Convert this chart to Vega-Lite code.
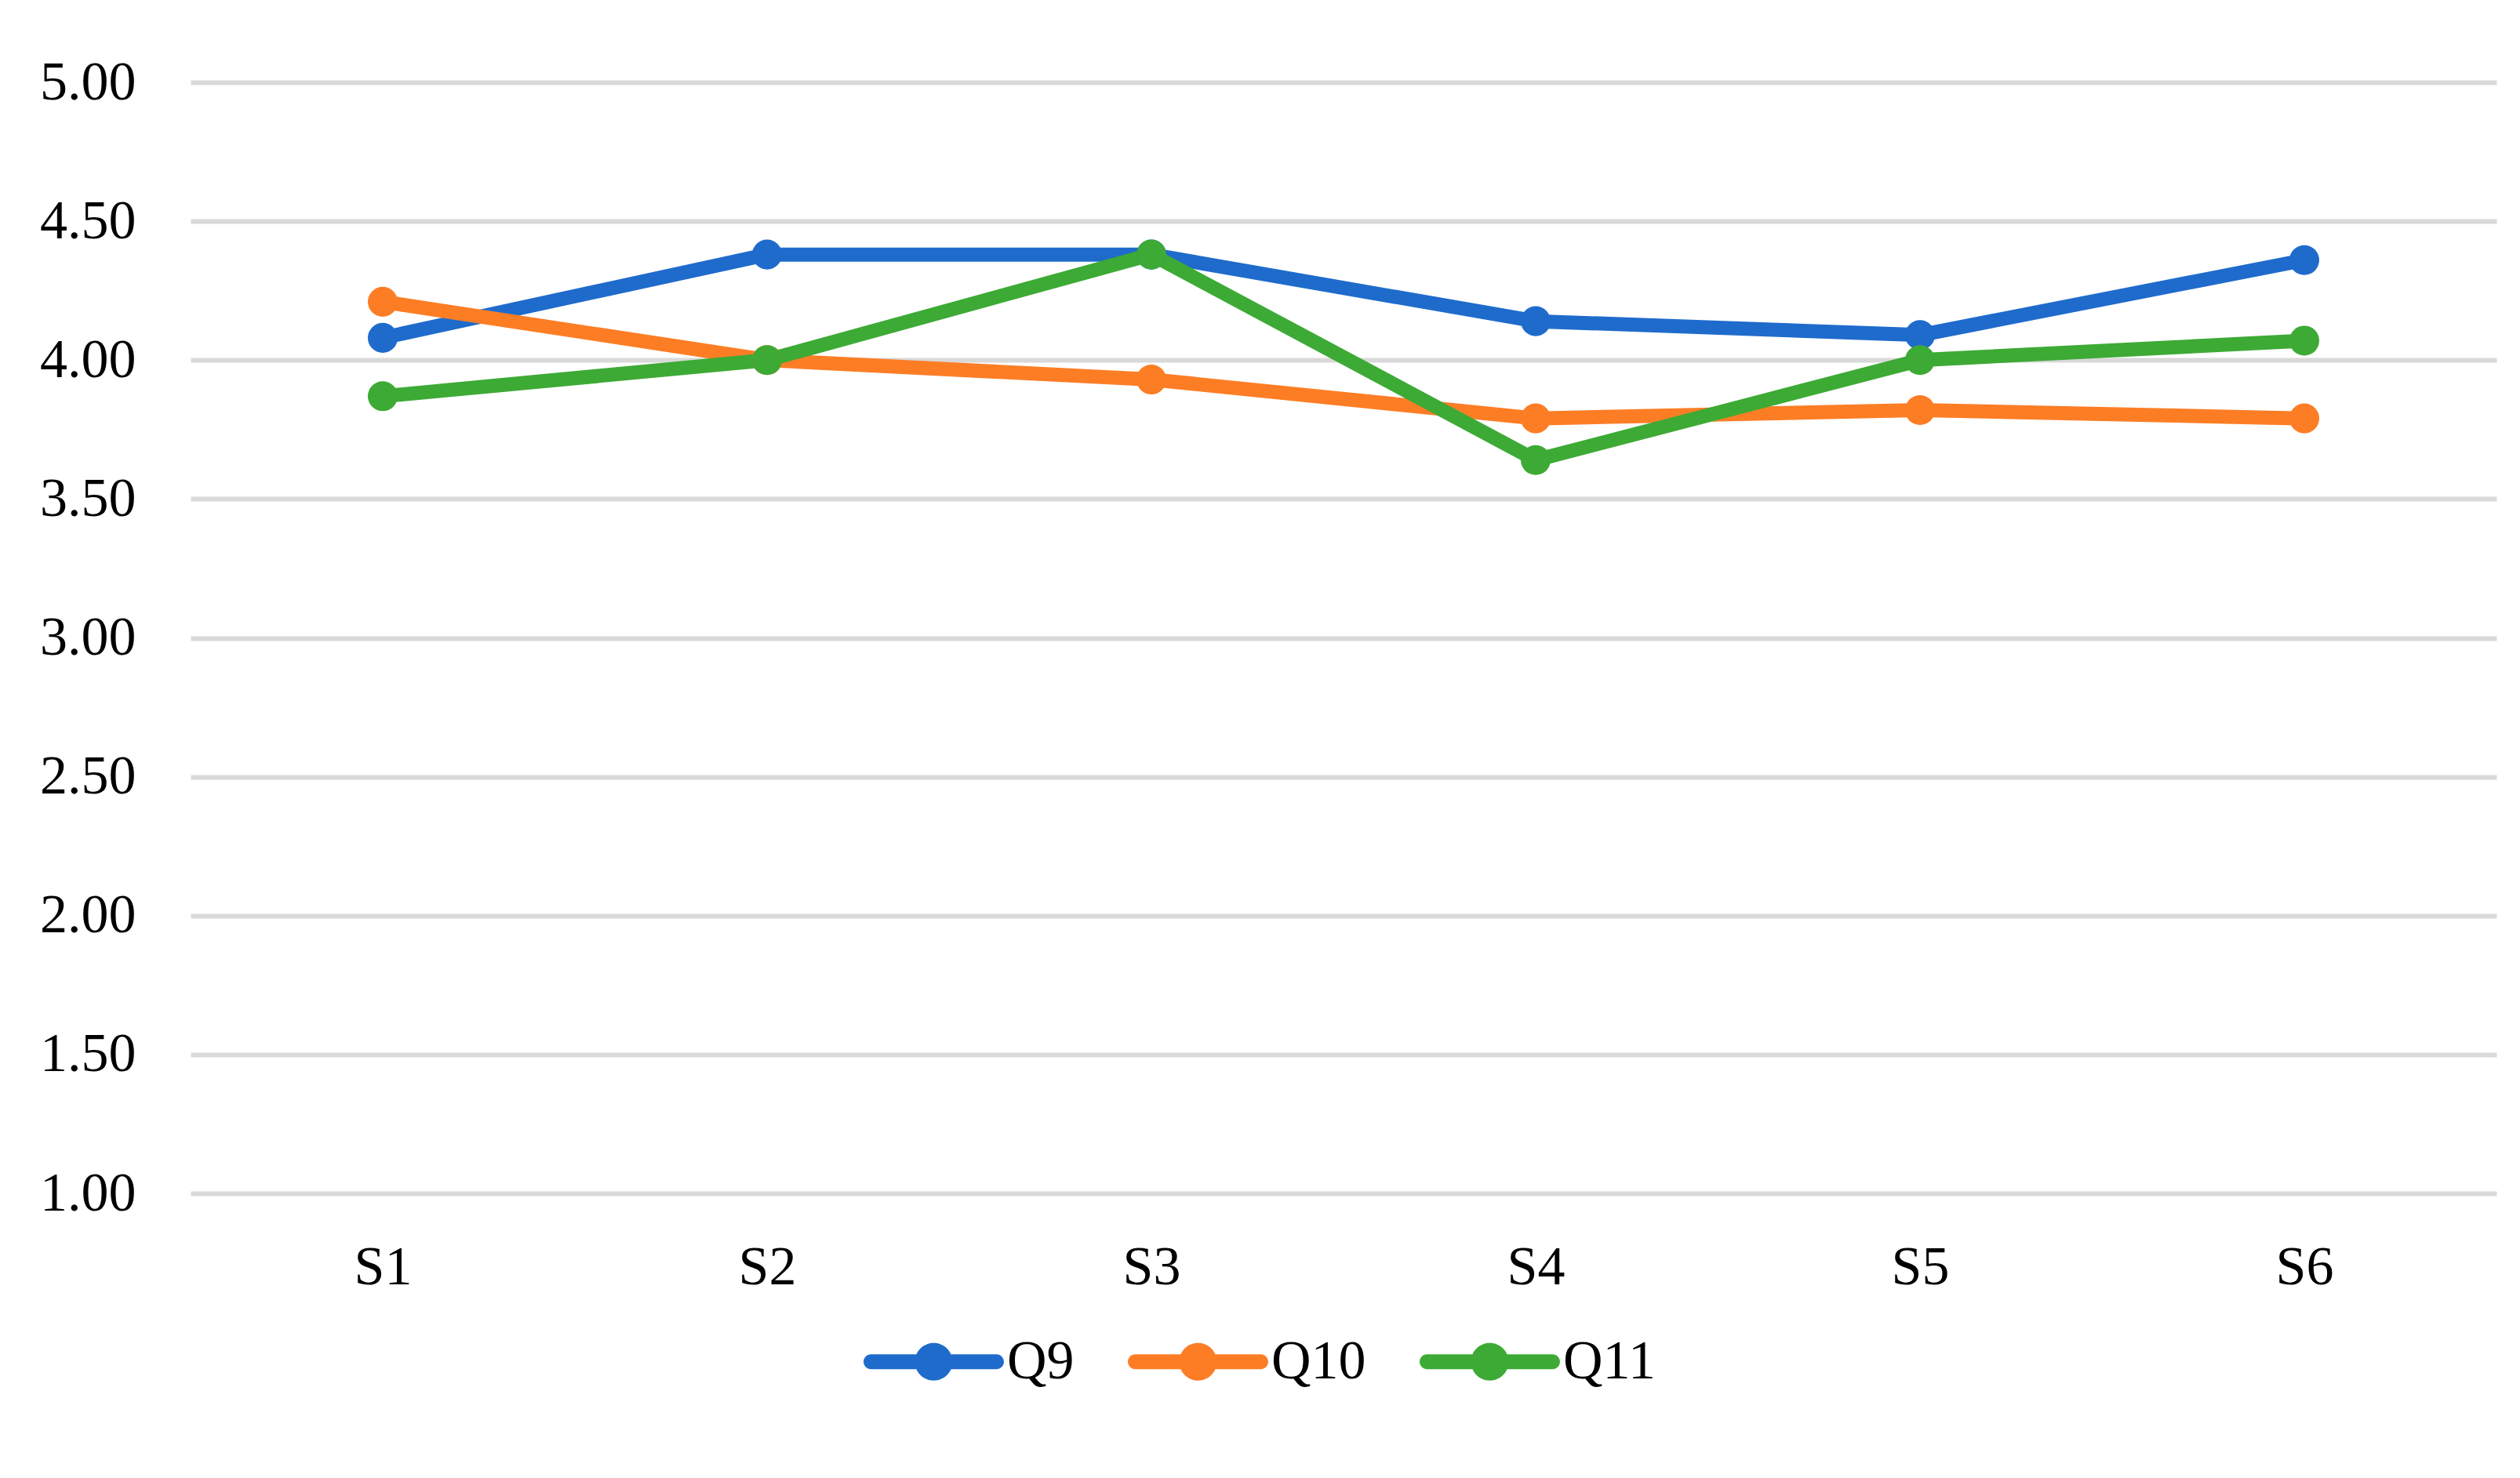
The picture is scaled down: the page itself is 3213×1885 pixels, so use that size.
{
  "$schema": "https://vega.github.io/schema/vega-lite/v6.json",
  "autosize": {"type": "none"},
  "width": 2940,
  "height": 1417,
  "padding": {"left": 243, "top": 105, "right": 30, "bottom": 363},
  "background": "white",
  "config": {
    "view": {"stroke": null},
    "font": "Liberation Serif",
    "axis": {"labelFont": "Liberation Serif", "labelFontSize": 70, "labelColor": "#000000"},
    "legend": {"labelFont": "Liberation Serif", "labelFontSize": 70, "labelColor": "#000000"}
  },
  "data": {
    "values": [
      {"s": "S1", "q": "Q9", "v": 4.08},
      {"s": "S2", "q": "Q9", "v": 4.38},
      {"s": "S3", "q": "Q9", "v": 4.38},
      {"s": "S4", "q": "Q9", "v": 4.14},
      {"s": "S5", "q": "Q9", "v": 4.09},
      {"s": "S6", "q": "Q9", "v": 4.36},
      {"s": "S1", "q": "Q10", "v": 4.21},
      {"s": "S2", "q": "Q10", "v": 4.00},
      {"s": "S3", "q": "Q10", "v": 3.93},
      {"s": "S4", "q": "Q10", "v": 3.79},
      {"s": "S5", "q": "Q10", "v": 3.82},
      {"s": "S6", "q": "Q10", "v": 3.79},
      {"s": "S1", "q": "Q11", "v": 3.87},
      {"s": "S2", "q": "Q11", "v": 4.00},
      {"s": "S3", "q": "Q11", "v": 4.38},
      {"s": "S4", "q": "Q11", "v": 3.64},
      {"s": "S5", "q": "Q11", "v": 4.00},
      {"s": "S6", "q": "Q11", "v": 4.07}
    ]
  },
  "encoding": {
    "x": {
      "field": "s", "type": "ordinal",
      "scale": {"type": "point", "padding": 0.5},
      "axis": {"title": null, "labelAngle": 0, "domain": false, "ticks": false, "grid": false, "labelPadding": 60}
    },
    "y": {
      "field": "v", "type": "quantitative",
      "scale": {"domain": [1, 5], "nice": false, "zero": false},
      "axis": {
        "title": null, "values": [1, 1.5, 2, 2.5, 3, 3.5, 4, 4.5, 5], "format": ".2f",
        "domain": false, "ticks": false, "labelPadding": 70,
        "grid": true, "gridColor": "#d9d9d9", "gridWidth": 6
      }
    },
    "color": {
      "field": "q", "type": "nominal",
      "sort": ["Q9", "Q10", "Q11"],
      "scale": {"domain": ["Q9", "Q10", "Q11"], "range": ["#1f6bcc", "#fd7d25", "#3daa35"]},
      "legend": {
        "title": null, "orient": "none", "direction": "horizontal",
        "legendX": 858, "legendY": 1542, "padding": 0,
        "symbolType": "M-0.894,-0.106 L0.894,-0.106 A0.106,0.106 0 0 1 0.894,0.106 L-0.894,0.106 A0.106,0.106 0 0 1 -0.894,-0.106 Z M-0.268,0 A0.268,0.268 0 1 1 0.268,0 A0.268,0.268 0 1 1 -0.268,0 Z",
        "symbolSize": 32000, "symbolStrokeWidth": 0, "symbolOpacity": 1,
        "labelOffset": 4, "columnPadding": 68
      }
    }
  },
  "layer": [
    {"mark": {"type": "line", "strokeWidth": 18, "strokeCap": "round", "strokeJoin": "round"}},
    {"mark": {"type": "point", "filled": true, "size": 1450, "opacity": 1}}
  ]
}
